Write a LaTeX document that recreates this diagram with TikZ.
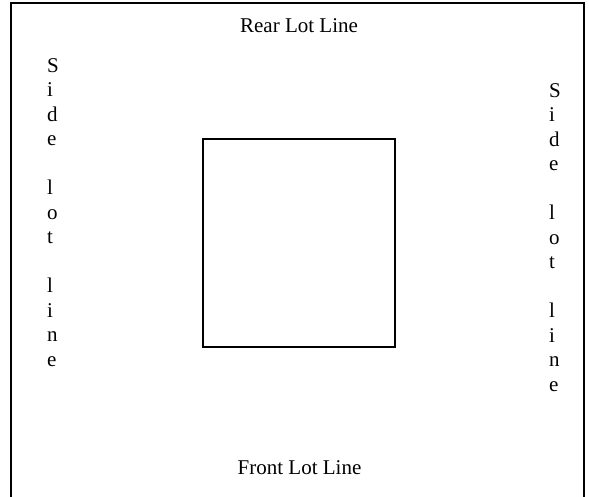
\documentclass[tikz,border=0pt]{standalone}
\usepackage{fontspec}
\setmainfont{Liberation Serif}
\begin{document}
\begin{tikzpicture}[x=1pt,y=1pt,
  lotline/.style={line width=2pt,black},
  house/.style={draw,line width=1.6pt,black},
  lbl/.style={font=\fontsize{21}{24.5}\selectfont,inner sep=0pt},
  sidelbl/.style={lbl,align=left,anchor=north west}]
\useasboundingbox (0,0) rectangle (589,-497);
\coordinate (bl) at (11,-497);
\coordinate (tl) at (11,-3);
\coordinate (tr) at (584,-3);
\coordinate (br) at (584,-497);
\draw[lotline] (bl) -- (tl) -- (tr) -- (br);
\node[house,minimum width=192pt,minimum height=208pt,inner sep=0pt] (bldg) at (299,-243) {};
\node[lbl] (rear) at (299,-26) {Rear Lot Line};
\node[lbl] (front) at (299.5,-468) {Front Lot Line};
\node[sidelbl] (sideL) at (47,-58) {S\\i\\d\\e\\\mbox{}\\l\\o\\t\\\mbox{}\\l\\i\\n\\e};
\node[sidelbl] (sideR) at (549,-83) {S\\i\\d\\e\\\mbox{}\\l\\o\\t\\\mbox{}\\l\\i\\n\\e};
\end{tikzpicture}
\end{document}
